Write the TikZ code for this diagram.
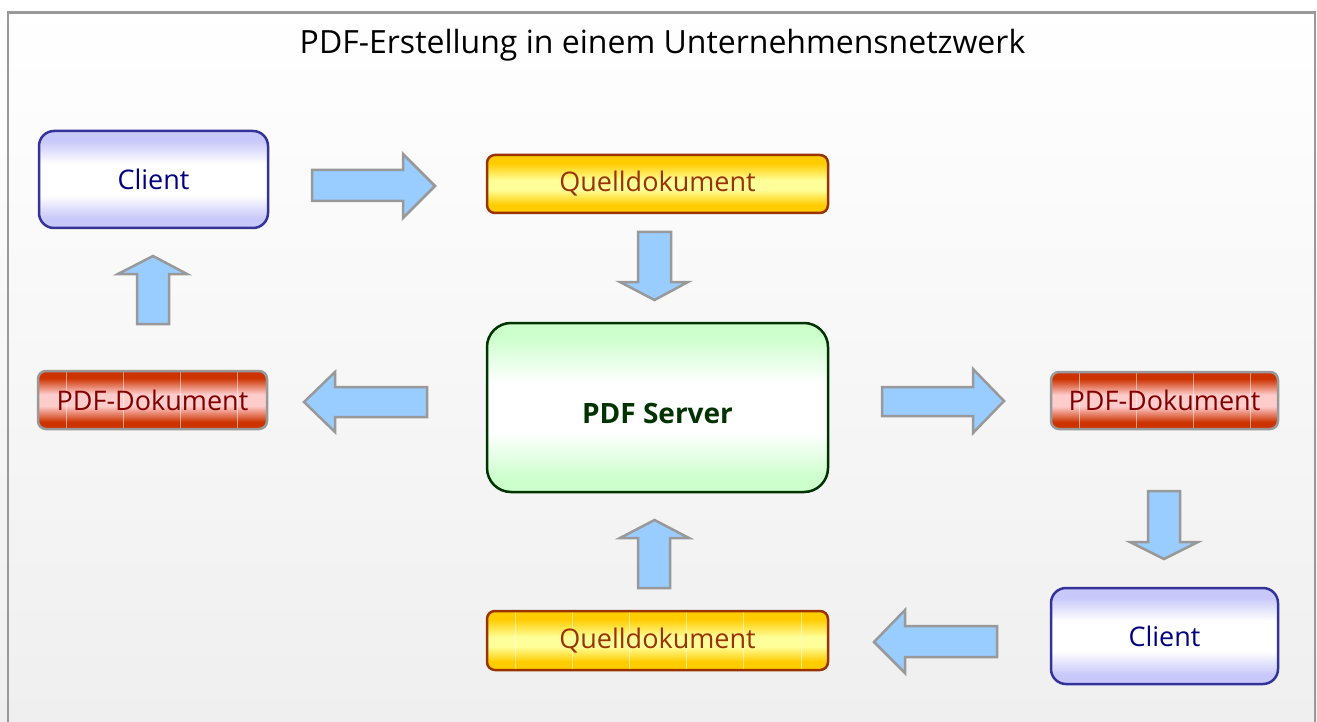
\documentclass[tikz,border=0pt]{standalone}
\usepackage{fontspec}
\setmainfont{Open Sans}
\usetikzlibrary{calc}
\definecolor{arrfill}{HTML}{99CCFF}
\definecolor{arrline}{HTML}{999999}
\definecolor{clientedge}{HTML}{C8C8FA}
\definecolor{clientline}{HTML}{333399}
\definecolor{clienttext}{HTML}{000080}
\definecolor{quelledge}{HTML}{FFCC00}
\definecolor{quellmid}{HTML}{FFFF99}
\definecolor{quellline}{HTML}{993300}
\definecolor{pdfedge}{HTML}{CC3300}
\definecolor{pdfmid}{HTML}{FFCCCC}
\definecolor{pdftext}{HTML}{800000}
\definecolor{srvedge}{HTML}{CCFFCC}
\definecolor{srvline}{HTML}{003300}
\definecolor{bgbottom}{HTML}{EFEFEF}
\pgfdeclareverticalshading{clientshade}{100bp}{color(0bp)=(clientedge); color(30bp)=(clientedge); color(42bp)=(white); color(58bp)=(white); color(70bp)=(clientedge); color(100bp)=(clientedge)}
\pgfdeclareverticalshading{quellshade}{100bp}{color(0bp)=(quelledge); color(32bp)=(quelledge); color(45bp)=(quellmid); color(53bp)=(quellmid); color(68bp)=(quelledge); color(100bp)=(quelledge)}
\pgfdeclareverticalshading{pdfshade}{100bp}{color(0bp)=(pdfedge); color(31bp)=(pdfedge); color(45bp)=(pdfmid); color(55bp)=(pdfmid); color(69bp)=(pdfedge); color(100bp)=(pdfedge)}
\pgfdeclareverticalshading{srvshade}{100bp}{color(0bp)=(srvedge); color(29bp)=(srvedge); color(43bp)=(white); color(57bp)=(white); color(71bp)=(srvedge); color(100bp)=(srvedge)}
\tikzset{
  blockarr/.style={fill=arrfill,draw=arrline,line width=2.5pt,line join=miter},
  boxbase/.style={rectangle,inner sep=0pt,line width=2.5pt,font=\fontsize{27}{30}\selectfont},
  clientbox/.style={boxbase,rounded corners=15pt,draw=clientline,text=clienttext,shading=clientshade},
  quellbox/.style={boxbase,rounded corners=8pt,draw=quellline,text=quellline,shading=quellshade},
  pdfbox/.style={boxbase,rounded corners=8pt,draw=arrline,text=pdftext,shading=pdfshade},
  srvbox/.style={boxbase,rounded corners=24pt,draw=srvline,text=srvline,shading=srvshade,
    font=\fontsize{28}{31}\selectfont\bfseries,text height=31pt,text depth=0pt},
  docstripes/.style={path picture={
    \foreach \i in {0,...,#1}
      \draw[white,opacity=.5,line width=.8pt]
        ([xshift={28+57.2*\i}]path picture bounding box.south west) --
        ([xshift={28+57.2*\i}]path picture bounding box.north west);}},
}
\begin{document}
\begin{tikzpicture}[x=1pt,y=-1pt]
\useasboundingbox (0,0) rectangle (1317,722);
\shade[top color=white,bottom color=bgbottom] (0,0) rectangle (1317,722);
\begin{scope}
\clip (0,0) rectangle (1317,722);
\draw[arrline,line width=2.5pt] (8,760) -- (8,12.5) -- (1315,12.5) -- (1315,760);
\end{scope}

\node (title) at (662.5,45) {\fontsize{32}{36}\selectfont PDF-Erstellung in einem Unternehmensnetzwerk};

\node[clientbox,minimum width=229pt,minimum height=97pt] (client1) at (153.5,179.5) {Client};
\node[quellbox,minimum width=341pt,minimum height=58pt] (quell1) at (657.5,184) {Quelldokument};
\node[srvbox,minimum width=341pt,minimum height=169pt] (server) at (657.5,407.5) {PDF Server};
\node[pdfbox,docstripes=3,minimum width=229pt,minimum height=58pt] (pdf1) at (152.5,400) {PDF-Dokument};
\node[pdfbox,docstripes=3,minimum width=227pt,minimum height=57pt] (pdf2) at (1164.5,400.5) {PDF-Dokument};
\node[clientbox,minimum width=227pt,minimum height=96pt] (client2) at (1164.5,636) {Client};
\node[quellbox,docstripes=5,minimum width=341pt,minimum height=59pt] (quell2) at (657.5,640.5) {Quelldokument};

% block arrows
\draw[blockarr] (312,170) -- (403,170) -- (403,154) -- (435,186) -- (403,218) -- (403,201) -- (312,201) -- cycle;
\draw[blockarr] (638,232) -- (671,232) -- (671,282) -- (688,282) -- (654.5,300) -- (620,282) -- (638,282) -- cycle;
\draw[blockarr] (427,387) -- (335,387) -- (335,372) -- (304,402) -- (335,432) -- (335,417) -- (427,417) -- cycle;
\draw[blockarr] (137,324) -- (169,324) -- (169,274) -- (187,274) -- (153,256) -- (118,274) -- (137,274) -- cycle;
\draw[blockarr] (882,387) -- (973,387) -- (973,369) -- (1004,401) -- (973,433) -- (973,416) -- (882,416) -- cycle;
\draw[blockarr] (1148,491) -- (1180,491) -- (1180,542) -- (1198,542) -- (1164,559) -- (1130,542) -- (1148,542) -- cycle;
\draw[blockarr] (997,626) -- (905,626) -- (905,610) -- (874,642) -- (905,673) -- (905,657) -- (997,657) -- cycle;
\draw[blockarr] (638,588) -- (670,588) -- (670,538) -- (689,538) -- (654.5,520) -- (620,538) -- (638,538) -- cycle;
\end{tikzpicture}
\end{document}
